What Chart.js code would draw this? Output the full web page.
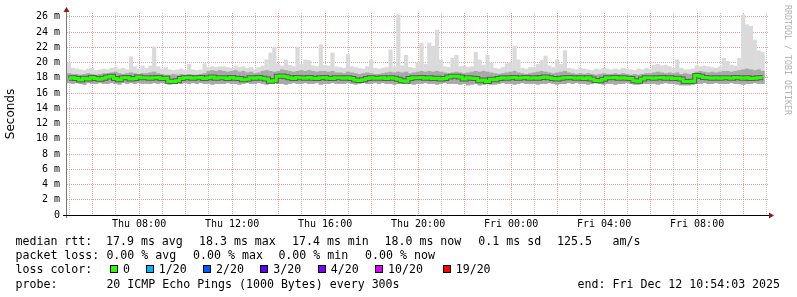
<!DOCTYPE html>
<html><head><meta charset="utf-8">
<script src="https://cdn.jsdelivr.net/npm/chart.js@4"></script>
<style>
html,body{margin:0;padding:0;background:#fff;width:797px;height:297px;overflow:hidden;}
#wrap{position:relative;width:797px;height:297px;}
canvas{position:absolute;left:0;top:0;}
.t{position:absolute;font-family:"DejaVu Sans Mono",monospace;font-size:11.6px;line-height:14px;white-space:pre;color:#000;}
.box{position:absolute;width:6px;height:6px;border:1px solid #000;}
#wm{position:absolute;left:793px;top:5px;transform-origin:0 0;transform:rotate(90deg);font-family:"DejaVu Sans Mono",monospace;font-size:8.3px;line-height:10px;white-space:pre;color:#b0b0b0;}
</style></head>
<body><div id="wrap"><canvas id="c" width="797" height="297"></canvas>
<div id="wm">RRDTOOL / TOBI OETIKER</div>
<div class="t" style="left:15.5px;top:234px">median rtt:</div>
<div class="t" style="left:106px;top:234px">17.9 ms avg</div>
<div class="t" style="left:199px;top:234px">18.3 ms max</div>
<div class="t" style="left:292px;top:234px">17.4 ms min</div>
<div class="t" style="left:384.5px;top:234px">18.0 ms now</div>
<div class="t" style="left:478.3px;top:234px">0.1 ms sd</div>
<div class="t" style="left:557px;top:234px">125.5</div>
<div class="t" style="left:612.5px;top:234px">am/s</div>
<div class="t" style="left:15.5px;top:248.2px">packet loss:</div>
<div class="t" style="left:106.4px;top:248.2px">0.00 % avg</div>
<div class="t" style="left:193.1px;top:248.2px">0.00 % max</div>
<div class="t" style="left:278.4px;top:248.2px">0.00 % min</div>
<div class="t" style="left:365.1px;top:248.2px">0.00 % now</div>
<div class="t" style="left:15.5px;top:262.4px">loss color:</div>
<div id="lossLegend"></div>
<div class="t" style="left:15.5px;top:276.6px">probe:</div>
<div class="t" style="left:106.4px;top:276.6px">20 ICMP Echo Pings (1000 Bytes) every 300s</div>
<div class="t" style="left:577.6px;top:276.6px">end: Fri Dec 12 10:54:03 2025</div>
</div>
<script>
// ---- data (ms), 10-minute bins starting Thu 04:54 ----
const startHour = 4.9;      // hours since Thu 00:00
const binMinutes = 10;
const pingMax = [
20.0,19.3,19.2,19.1,19.0,19.2,19.3,19.0,19.1,19.2,
19.1,19.3,19.4,19.2,19.3,19.1,20.8,19.5,19.2,19.6,
19.3,19.6,22.1,19.5,19.2,19.4,19.1,19.0,19.1,19.2,
19.0,19.8,19.1,19.0,19.1,19.9,19.4,19.5,19.4,19.5,
19.5,19.4,19.3,19.6,19.4,19.5,19.3,19.4,19.2,19.4,
19.6,20.4,21.3,22.0,19.8,19.6,20.4,19.7,19.5,22.0,
19.8,20.4,20.3,19.6,19.5,22.4,19.7,19.6,21.3,19.5,
19.4,19.3,21.1,19.5,19.4,19.3,19.2,19.5,20.4,19.3,
19.2,19.3,19.4,21.7,19.5,26.3,19.6,21.0,19.4,19.3,
20.0,22.6,19.8,22.6,22.2,24.3,20.4,19.5,19.4,20.6,
21.0,19.5,19.6,19.4,19.5,21.4,20.4,19.7,21.0,20.0,
19.3,19.2,19.4,19.9,20.0,22.2,20.4,19.3,19.2,19.4,
19.4,19.8,20.3,20.9,19.6,19.4,20.4,19.8,21.6,19.3,
19.2,19.1,19.3,19.2,19.1,19.0,19.2,19.1,19.3,19.2,
19.1,19.2,19.1,19.3,19.2,19.1,19.0,19.2,19.1,19.3,
19.2,19.7,19.8,19.6,19.7,19.5,19.3,20.4,19.3,19.1,
19.1,19.2,19.6,19.5,19.6,19.5,19.4,19.3,19.5,20.6,
20.2,19.7,19.6,20.6,26.3,25.0,24.8,23.0,21.6,21.4];
const pingHigh = [
18.6,18.5,18.5,18.4,18.5,18.6,18.5,18.4,18.5,18.6,
18.6,18.7,18.8,18.6,18.5,18.6,18.7,18.6,18.5,18.6,
18.6,18.7,18.8,18.6,18.5,18.4,18.4,18.5,18.4,18.5,
18.4,18.5,18.4,18.4,18.5,18.6,18.9,19.0,18.9,19.0,
18.9,18.8,18.9,19.0,18.8,18.9,18.7,18.8,18.6,18.7,
18.9,19.0,18.9,18.8,18.9,19.1,19.0,18.9,18.8,18.9,
19.0,18.9,19.0,18.9,18.8,18.9,18.9,18.8,18.9,18.7,
18.7,18.6,18.8,18.7,18.6,18.5,18.6,18.7,18.6,18.5,
18.5,18.6,18.7,18.8,18.7,18.8,18.7,18.8,18.6,18.7,
18.8,18.9,18.8,18.9,18.8,18.9,18.8,18.7,18.6,18.7,
18.8,18.7,18.6,18.7,18.8,18.9,18.8,18.9,18.8,18.7,
18.6,18.5,18.6,18.7,18.8,18.9,18.7,18.6,18.5,18.6,
18.7,18.8,18.9,18.8,18.7,18.6,18.7,18.8,18.9,18.7,
18.6,18.5,18.6,18.5,18.6,18.5,18.4,18.5,18.6,18.5,
18.5,18.6,18.5,18.6,18.5,18.4,18.5,18.4,18.5,18.6,
18.6,18.7,18.8,18.7,18.6,18.7,18.6,18.7,18.5,18.6,
18.5,18.5,18.8,18.9,18.8,18.7,18.8,18.7,18.8,18.9,
18.9,18.8,18.9,19.0,19.1,19.2,19.1,19.0,19.1,18.9];
const pingLow = [
17.3,17.2,17.3,17.2,17.1,17.3,17.2,17.2,17.3,17.2,
17.2,17.3,17.2,17.1,17.3,17.2,17.3,17.2,17.3,17.2,
17.2,17.2,17.3,17.2,17.3,17.2,17.1,17.2,17.3,17.2,
17.3,17.2,17.3,17.2,17.3,17.2,17.2,17.1,17.2,17.2,
17.2,17.3,17.2,17.2,17.1,17.2,17.3,17.2,17.2,17.3,
17.2,17.1,17.2,17.3,17.2,17.2,17.1,17.2,17.3,17.2,
17.2,17.3,17.2,17.2,17.3,17.1,17.2,17.2,17.3,17.2,
17.2,17.2,17.3,17.2,17.1,17.2,17.3,17.2,17.2,17.3,
17.2,17.3,17.2,17.2,17.1,17.2,17.2,17.3,17.2,17.1,
17.2,17.2,17.3,17.2,17.2,17.1,17.2,17.3,17.2,17.2,
17.2,17.1,17.2,17.0,17.1,17.2,17.0,17.1,17.2,17.1,
17.1,17.2,17.3,17.2,17.2,17.1,17.2,17.3,17.2,17.2,
17.2,17.1,17.2,17.2,17.3,17.2,17.1,17.2,17.2,17.3,
17.2,17.3,17.2,17.2,17.1,17.2,17.3,17.2,17.1,17.2,
17.2,17.1,17.2,17.2,17.3,17.2,17.1,17.1,17.2,17.2,
17.2,17.2,17.1,17.2,17.3,17.2,17.2,17.1,17.0,17.0,
17.0,17.1,17.2,17.2,17.3,17.2,17.2,17.3,17.2,17.2,
17.2,17.3,17.2,17.2,17.1,17.2,17.2,17.3,17.2,17.2];
const medianRtt = [
17.95,18.0,17.9,17.7,17.95,17.85,18.05,17.9,17.8,17.95,
18.1,18.2,17.9,17.75,18.0,18.05,17.85,17.9,18.1,18.0,
18.0,17.95,18.0,18.05,17.9,17.95,17.55,17.5,17.6,17.9,
18.0,18.05,17.95,18.0,18.05,17.9,18.0,18.1,17.95,18.0,
18.0,17.9,18.05,17.95,17.9,17.75,17.8,18.0,17.95,18.05,
17.95,17.85,17.55,17.6,18.2,18.25,18.15,18.0,17.9,18.05,
18.0,17.95,18.05,17.95,17.9,18.0,18.05,17.95,17.9,18.0,
18.0,17.95,18.0,17.9,17.7,17.65,17.75,17.9,18.0,17.95,
17.95,18.0,17.9,18.0,17.95,17.8,17.6,17.55,17.9,18.0,
18.0,18.05,17.95,18.0,17.9,17.95,17.85,17.9,18.1,18.2,
18.2,18.1,17.85,18.0,17.95,17.9,17.6,17.7,17.5,17.8,
17.75,17.9,18.0,17.95,18.0,18.05,17.95,18.0,18.05,17.95,
18.0,17.95,18.05,18.1,18.0,17.9,17.85,17.95,18.0,18.05,
18.0,17.95,18.0,17.9,18.0,17.85,17.65,17.6,17.8,18.0,
18.0,18.05,17.95,18.0,17.95,17.9,17.6,17.55,17.85,18.0,
18.0,17.95,18.0,18.05,17.95,18.0,17.9,17.95,17.85,17.5,
17.5,17.55,18.3,18.2,18.05,18.0,17.95,18.0,17.95,18.0,
18.0,17.95,18.05,18.0,17.95,18.0,17.9,17.95,18.0,18.05];
// axis ticks
const hourTicks = [5,6,7,8,9,10,11,12,13,14,15,16,17,18,19,20,21,22,23,24,25,26,27,28,29,30,31,32,33,34,35];
const labelHours = [8,12,16,20,24,28,32];
const labelTexts = ['Thu 08:00','Thu 12:00','Thu 16:00','Thu 20:00','Fri 00:00','Fri 04:00','Fri 08:00'];
const yTicks = [0,1,2,3,4,5,6,7,8,9,10,11,12,13,14,15,16,17,18,19,20,21,22,23,24,25,26];
const lossLabels = ['0','1/20','2/20','3/20','4/20','10/20','19/20'];
const lossColors = ['#26ff00','#00b8ff','#0059ff','#5e00ff','#7e00ff','#dd00ff','#ff0000'];
const lossBoxX = [110,145.7,203,260.3,317.7,375,442.7];

// loss legend
const ll = document.getElementById('lossLegend');
lossLabels.forEach((lab,i)=>{
  const b=document.createElement('div');b.className='box';
  b.style.left=lossBoxX[i]+'px';b.style.top='265px';b.style.background=lossColors[i];
  ll.appendChild(b);
  const t=document.createElement('div');t.className='t';
  t.style.left=(lossBoxX[i]+13)+'px';t.style.top='262.4px';t.textContent=lab;
  ll.appendChild(t);
});

const xOf = i => startHour + (i + 0.5) * binMinutes / 60;
const pts = (a,b) => a.map((v,i)=>({x:xOf(i), y: b ? [b[i], v] : v}));

const MAJOR='rgba(230,140,140,0.85)', MINOR='rgba(180,180,180,0.8)';

const axesPlugin = {
  id:'rrdAxes',
  afterDraw(chart){
    const {ctx, chartArea:{left,top,right,bottom}} = chart;
    ctx.save();
    ctx.lineWidth=1;
    ctx.strokeStyle='#777';
    ctx.beginPath();ctx.moveTo(left-0.5,top-4);ctx.lineTo(left-0.5,bottom+3);ctx.stroke();
    ctx.strokeStyle='#000';
    ctx.beginPath();ctx.moveTo(left-4,bottom+0.5);ctx.lineTo(right+2,bottom+0.5);ctx.stroke();
    ctx.fillStyle='#8b1a1a';
    ctx.beginPath();ctx.moveTo(left-0.5,top-6);ctx.lineTo(left-3.5,top-1);ctx.lineTo(left+2.5,top-1);ctx.closePath();ctx.fill();
    ctx.beginPath();ctx.moveTo(right+6,bottom+0.5);ctx.lineTo(right+1,bottom-2.5);ctx.lineTo(right+1,bottom+3.5);ctx.closePath();ctx.fill();
    ctx.restore();
  }
};

new Chart(document.getElementById('c'), {
  type:'bar',
  data:{datasets:[
    {label:'max', data:pts(pingMax,pingLow), backgroundColor:'#dadada', grouped:false, barPercentage:1.08, categoryPercentage:1, borderWidth:0, order:4},
    {label:'spread', data:pts(pingHigh,pingLow), backgroundColor:'#a8a8a8', grouped:false, barPercentage:1.08, categoryPercentage:1, borderWidth:0, order:3},
    {type:'line', label:'core', data:pts(medianRtt), borderColor:'#5c5c5c', borderWidth:5, stepped:'middle', pointRadius:0, fill:false, order:2},
    {type:'line', label:'median rtt', data:pts(medianRtt), borderColor:'#26ff00', borderWidth:3, stepped:'middle', pointRadius:0, fill:false, order:1}
  ]},
  options:{
    responsive:false, animation:false, devicePixelRatio:1,
    layout:{padding:{left:0,top:13,right:29,bottom:0}},
    plugins:{legend:{display:false}, tooltip:{enabled:false}},
    scales:{
      x:{type:'linear', min:startHour, max:35.05, offset:false,
        afterBuildTicks:s=>{s.ticks=hourTicks.map(v=>({value:v}));},
        afterFit:s=>{s.height=82;},
        grid:{offset:false, drawTicks:false, color:c=>c.tick && c.tick.value%2===0?MAJOR:MINOR, lineWidth:1},
        border:{display:false, dash:[1,1]},
        ticks:{autoSkip:false, maxRotation:0, padding:3, color:'#000', font:{family:'DejaVu Sans Mono', size:10},
          callback:v=>{const k=labelHours.indexOf(v);return k>=0?labelTexts[k]:'';}}
      },
      y:{type:'linear', min:0, max:26.5,
        afterBuildTicks:s=>{s.ticks=yTicks.map(v=>({value:v}));},
        afterFit:s=>{s.width=67;},
        grid:{drawTicks:false, color:c=>c.tick && c.tick.value%2===0?MAJOR:MINOR, lineWidth:1},
        border:{display:false, dash:[1,1]},
        title:{display:true, text:'Seconds', color:'#000', font:{family:'DejaVu Sans', size:12}},
        ticks:{padding:7, color:'#000', font:{family:'DejaVu Sans Mono', size:10},
          callback:v=> v%2!==0 ? '' : (v===0 ? '0' : v+' m')}
      }
    }
  },
  plugins:[axesPlugin]
});
</script></body></html>
